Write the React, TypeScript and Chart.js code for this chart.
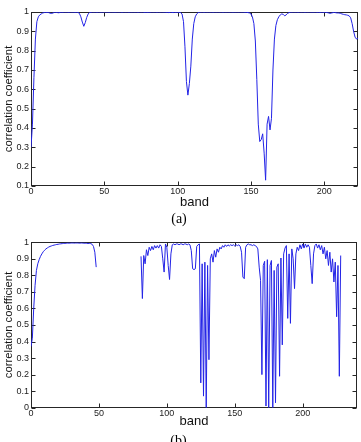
import React, { useEffect, useRef } from 'react';
import { Chart, registerables } from 'chart.js';

Chart.register(...registerables);

const xAxisTitle = 'band';
const yAxisTitle = 'correlation coefficient';
const captionA = '(a)';
const captionB = '(b)';

// (a) correlation coefficient per band, bands 0..223
const valuesA: number[] = [
  0.30, 0.42, 0.66, 0.86, 0.95, 0.975, 0.985, 0.99, 0.995, 0.997,
  0.998, 0.998, 0.997, 0.994, 0.992, 0.995, 0.998, 0.999, 0.997, 0.996,
  0.998, 0.999, 0.999, 1, 1, 0.999, 0.999, 1, 1, 0.999,
  0.999, 0.999, 0.998, 0.993, 0.975, 0.948, 0.926, 0.945, 0.972, 0.99,
  0.998, 0.999, 1, 1, 1, 0.999, 1, 1, 0.999, 1,
  1, 1, 1, 0.999, 1, 1, 1, 0.999, 1, 1,
  1, 1, 0.999, 1, 1, 1, 1, 0.999, 1, 1,
  1, 1, 1, 0.999, 1, 1, 1, 0.999, 0.998, 0.999,
  0.998, 0.999, 1, 1, 1, 1, 0.999, 1, 1, 1,
  1, 0.999, 0.999, 0.998, 0.997, 0.999, 0.998, 0.997, 0.999, 0.998,
  0.999, 0.998, 0.997, 0.99, 0.95, 0.82, 0.64, 0.57, 0.63, 0.72,
  0.86, 0.94, 0.975, 0.99, 0.997, 0.999, 1, 1, 0.999, 1,
  1, 1, 1, 1, 0.999, 1, 1, 1, 1, 1,
  1, 0.999, 1, 1, 1, 1, 1, 1, 0.999, 1,
  1, 1, 1, 1, 1, 0.999, 0.999, 0.998, 0.997, 0.995,
  0.99, 0.975, 0.94, 0.85, 0.65, 0.42, 0.33, 0.34, 0.37, 0.27,
  0.13, 0.42, 0.46, 0.39, 0.45, 0.70, 0.86, 0.93, 0.96, 0.975,
  0.985, 0.99, 0.988, 0.98, 0.985, 0.993, 0.997, 0.999, 1, 1,
  1, 1, 0.999, 1, 1, 1, 1, 0.999, 1, 1,
  1, 1, 0.999, 1, 1, 0.999, 0.999, 0.998, 0.999, 0.999,
  0.998, 0.999, 0.997, 0.995, 0.993, 0.995, 0.997, 0.998, 0.996, 0.995,
  0.995, 0.993, 0.99, 0.988, 0.986, 0.985, 0.983, 0.98, 0.97, 0.94,
  0.90, 0.87, 0.86, 0.865,
];

// (b) correlation coefficient per band, bands 0..228 (null = removed band)
const valuesB: (number | null)[] = [
  0.37, 0.42, 0.60, 0.74, 0.83, 0.87, 0.895, 0.915, 0.93, 0.943,
  0.952, 0.96, 0.966, 0.971, 0.975, 0.978, 0.981, 0.983, 0.985, 0.987,
  0.988, 0.99, 0.991, 0.992, 0.993, 0.994, 0.994, 0.995, 0.995, 0.995,
  0.996, 0.996, 0.995, 0.996, 0.996, 0.995, 0.995, 0.996, 0.995, 0.995,
  0.994, 0.994, 0.993, 0.993, 0.992, 0.988, 0.975, 0.94, 0.85, null,
  null, null, null, null, null, null, null, null, null, null,
  null, null, null, null, null, null, null, null, null, null,
  null, null, null, null, null, null, null, null, null, null,
  null, 0.915, 0.66, 0.92, 0.87, 0.955, 0.92, 0.97, 0.95, 0.975,
  0.955, 0.98, 0.965, 0.98, 0.965, 0.985, 0.975, 0.90, 0.82, 0.99,
  0.97, 0.86, 0.775, 0.93, 0.985, 0.99, 0.985, 0.99, 0.99, 0.985,
  0.99, 0.99, 0.985, 0.99, 0.99, 0.985, 0.99, 0.985, 0.95, 0.84,
  0.835, 0.84, 0.975, 0.985, 0.99, 0.15, 0.87, 0.07, 0.88, 0.0,
  0.86, 0.29, 0.90, 0.93, 0.88, 0.95, 0.91, 0.96, 0.94, 0.97,
  0.96, 0.98, 0.97, 0.985, 0.975, 0.985, 0.978, 0.985, 0.98, 0.985,
  0.978, 0.985, 0.98, 0.985, 0.975, 0.94, 0.79, 0.78, 0.97, 0.985,
  0.99, 0.985, 0.985, 0.98, 0.985, 0.98, 0.975, 0.96, 0.85, 0.77,
  0.20, 0.86, 0.885, 0.01, 0.895, 0.0, 0.86, 0.89, 0.0, 0.83,
  0.03, 0.85, 0.87, 0.19, 0.905, 0.38, 0.93, 0.965, 0.98, 0.54,
  0.93, 0.51, 0.96, 0.90, 0.72, 0.93, 0.97, 0.95, 0.985, 0.96,
  0.99, 0.965, 0.99, 0.97, 0.985, 0.97, 0.86, 0.75, 0.93, 0.98,
  0.99, 0.965, 0.985, 0.955, 0.98, 0.93, 0.97, 0.90, 0.95, 0.86,
  0.94, 0.82, 0.90, 0.76, 0.88, 0.55, 0.86, 0.19, 0.92,
];

const bandsA = valuesA.map((_, i) => i);
const bandsB = valuesB.map((_, i) => i);

const LINE_COLOR = '#2323e6';
const AXIS_COLOR = '#262626';
const SANS = '"Liberation Sans", Arial, sans-serif';
const SERIF = '"Liberation Serif", "Times New Roman", serif';

const framePlugin = {
  id: 'frame',
  beforeDatasetsDraw(chart: any) {
    const { ctx, chartArea } = chart;
    const { left, right, top, bottom } = chartArea;
    const xs = chart.scales.x;
    const ys = chart.scales.y;
    const L = Math.round(left) + 0.5;
    const R = Math.round(right) - 0.5;
    const T = Math.round(top) + 0.5;
    const B = Math.round(bottom) - 0.5;
    const len = 4;
    ctx.save();
    ctx.strokeStyle = AXIS_COLOR;
    ctx.lineWidth = 1;
    ctx.strokeRect(L, T, R - L, B - T);
    ctx.beginPath();
    xs.ticks.forEach((t: any) => {
      const px = Math.round(xs.getPixelForValue(t.value)) + 0.5;
      ctx.moveTo(px, B);
      ctx.lineTo(px, B - len);
      ctx.moveTo(px, T);
      ctx.lineTo(px, T + len);
    });
    ys.ticks.forEach((t: any) => {
      const py = Math.round(ys.getPixelForValue(t.value)) + 0.5;
      ctx.moveTo(L, py);
      ctx.lineTo(L + len, py);
      ctx.moveTo(R, py);
      ctx.lineTo(R - len, py);
    });
    ctx.stroke();
    ctx.restore();
  },
};

function buildConfig(p: {
  bands: number[];
  values: (number | null)[];
  xMax: number;
  yMin: number;
  caption: string;
  padTop: number;
  padRight: number;
  padBottom: number;
  xAxisHeight: number;
  captionPadTop: number;
}) {
  return {
    type: 'line' as const,
    data: {
      datasets: [
        {
          data: p.bands.map((b, i) => ({ x: b, y: p.values[i] })),
          borderColor: LINE_COLOR,
          borderWidth: 1,
          pointRadius: 0,
          tension: 0,
          fill: false,
          spanGaps: false,
        },
      ],
    },
    options: {
      responsive: false,
      animation: false as const,
      events: [],
      layout: { padding: { left: 0, right: p.padRight, top: p.padTop, bottom: p.padBottom } },
      plugins: {
        legend: { display: false },
        tooltip: { enabled: false },
        title: {
          display: true,
          text: p.caption,
          position: 'bottom' as const,
          color: '#000',
          font: { family: SERIF, size: 14, weight: 'normal' as const, lineHeight: 1.2 },
          padding: { top: p.captionPadTop, bottom: 0 },
        },
      },
      scales: {
        x: {
          type: 'linear' as const,
          min: 0,
          max: p.xMax,
          grid: { display: false, drawTicks: false },
          border: { display: false },
          ticks: {
            stepSize: 50,
            includeBounds: false,
            padding: 0,
            color: '#222',
            font: { family: SANS, size: 9 },
            maxRotation: 0,
          },
          title: {
            display: true,
            text: xAxisTitle,
            color: '#111',
            font: { family: SANS, size: 13, lineHeight: 1.1 },
            padding: { top: 0, bottom: 0 },
          },
          afterFit: (s: any) => {
            s.height = p.xAxisHeight;
          },
        },
        y: {
          type: 'linear' as const,
          min: p.yMin,
          max: 1,
          grid: { display: false, drawTicks: false },
          border: { display: false },
          ticks: {
            stepSize: 0.1,
            padding: 2,
            color: '#222',
            font: { family: SANS, size: 9 },
            callback: (v: any) => String(Math.round(Number(v) * 10) / 10),
          },
          title: {
            display: true,
            text: yAxisTitle,
            color: '#111',
            font: { family: SANS, size: 11.3, lineHeight: 1.2 },
            padding: { top: 2, bottom: 0 },
          },
          afterFit: (s: any) => {
            s.width = 31;
          },
        },
      },
    },
    plugins: [framePlugin],
  };
}

export default function App() {
  const refA = useRef<HTMLCanvasElement | null>(null);
  const refB = useRef<HTMLCanvasElement | null>(null);

  useEffect(() => {
    const a = new Chart(
      refA.current as HTMLCanvasElement,
      buildConfig({
        bands: bandsA,
        values: valuesA,
        xMax: 223,
        yMin: 0.1,
        caption: captionA,
        padTop: 12,
        padRight: 3,
        padBottom: 0.2,
        xAxisHeight: 24,
        captionPadTop: 1,
      }) as any
    );
    const b = new Chart(
      refB.current as HTMLCanvasElement,
      buildConfig({
        bands: bandsB,
        values: valuesB,
        xMax: 240,
        yMin: 0,
        caption: captionB,
        padTop: 14.3,
        padRight: 4,
        padBottom: 0.5,
        xAxisHeight: 21,
        captionPadTop: 4,
      }) as any
    );
    return () => {
      a.destroy();
      b.destroy();
    };
  }, []);

  return (
    <div
      style={{
        position: 'fixed',
        left: 0,
        top: 0,
        width: 361,
        height: 442,
        overflow: 'hidden',
        background: '#fff',
      }}
    >
      <canvas
        ref={refA}
        width={361}
        height={228}
        style={{ position: 'absolute', left: 0, top: 0, display: 'block' }}
      />
      <canvas
        ref={refB}
        width={361}
        height={222}
        style={{ position: 'absolute', left: 0, top: 228, display: 'block' }}
      />
    </div>
  );
}
